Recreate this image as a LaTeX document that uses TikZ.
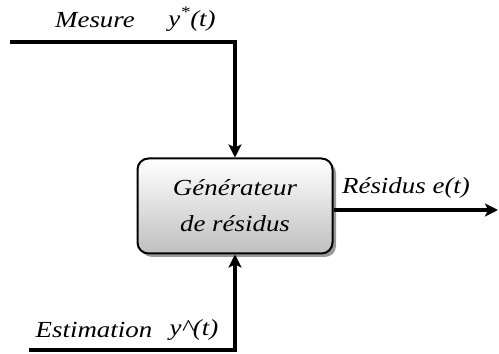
\documentclass[tikz,border=0pt]{standalone}
\usepackage{fontspec}
\setmainfont{Liberation Serif}
\newcommand{\wide}[1]{\scalebox{1.17}[1]{#1}}
\usetikzlibrary{arrows.meta,shadows}
\begin{document}
\begin{tikzpicture}[x=1pt,y=1pt,
  lbl/.style={font=\itshape\fontsize{23}{27}\selectfont, inner sep=0pt},
  wire/.style={line width=3.5pt},
  arr/.style={wire,-{Stealth[length=13pt,width=13pt,inset=3pt]}},
  genbox/.style={draw=black, line width=2pt, rounded corners=11pt,
    minimum width=195pt, minimum height=95pt,
    top color=white, bottom color=black!25,
    drop shadow={shadow xshift=3.5pt, shadow yshift=-3.5pt, fill=black!40, opacity=1},
    align=center, font=\itshape\fontsize{23}{36}\selectfont}]
\useasboundingbox (0,0) rectangle (499,354);
\node[genbox] (gen) at (235,148) {\wide{Générateur}\\\wide{de résidus}};
\coordinate (tin) at (10,312);
\coordinate (tc) at (235,312);
\coordinate (bin) at (29,4);
\coordinate (bc) at (235,4);
\coordinate (out) at (498,144);
\draw[arr] (tin) -- (tc) -- (gen.north);
\draw[arr] (bin) -- (bc) -- (gen.south);
\draw[arr] ([yshift=-4pt]gen.east) -- (out);
\node[lbl] (mes) at (95,334) {\wide{Mesure}};
\node[lbl] (ys) at (192,335) {\wide{y\textsuperscript{*}(t)}};
\node[lbl] (est) at (94,24) {\wide{Estimation}};
\node[lbl] (yh) at (194,24) {\wide{y\^{}(t)}};
\node[lbl] (res) at (406,166) {\wide{Résidus e(t)}};
\end{tikzpicture}
\end{document}
